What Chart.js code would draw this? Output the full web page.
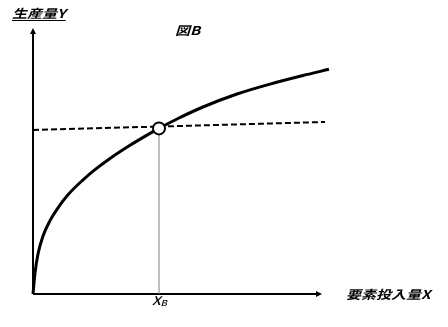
<!DOCTYPE html>
<html>
<head>
<meta charset="utf-8">
<script src="https://cdn.jsdelivr.net/npm/chart.js@4/dist/chart.umd.min.js"></script>
<style>
  html, body { margin: 0; padding: 0; background: #fff; }
  #wrap { width: 448px; height: 327px; }
</style>
</head>
<body>
<div id="wrap"><canvas id="c" width="448" height="327"></canvas></div>
<script>
// production curve Y = f(X) (axis units)
const curveX = [0, 2, 5, 10, 17, 25, 35, 49, 62, 77, 97, 114, 126, 145, 170, 204, 237, 270, 296];
const curveY = [0, 21, 40, 58, 73.4, 86.2, 99.2, 113.2, 124.3, 135.5, 148.7, 158.9, 165.6, 175.5, 187, 200, 209.9, 218.5, 224.7];

// dashed line
const dashX = [0, 292];
const dashY = [164, 172];

// point B
const xB = 126;
const yB = 165.6;

const axisMaxX = 296;
const axisMaxY = 266;
const arrowX = 289;

const titleText = '図B';
const yLabel = '生産量Y';
const xLabel = '要素投入量X';
const xTick = ['X', 'B'];

const font = '"Noto Sans CJK JP", "Noto Sans", sans-serif';

const toPts = (xs, ys) => xs.map((x, i) => ({ x: x, y: ys[i] }));

// draw text stretched a bit wider, the way the original looks
function wideText(ctx, txt, x, y, f, sx) {
    ctx.save();
    ctx.translate(x, y);
    ctx.scale(sx, 1);
    ctx.font = f;
    ctx.fillText(txt, 0, 0);
    const w = ctx.measureText(txt).width * sx;
    ctx.restore();
    return w;
}

const axesPlugin = {
    id: 'axes',
    beforeDatasetsDraw(chart) {
        const ctx = chart.ctx;
        const sx = chart.scales.x, sy = chart.scales.y;
        const x0 = sx.getPixelForValue(0), y0 = sy.getPixelForValue(0);
        const yTop = sy.getPixelForValue(axisMaxY);
        const xEnd = sx.getPixelForValue(arrowX);

        ctx.save();
        ctx.strokeStyle = '#000';
        ctx.fillStyle = '#000';
        ctx.lineWidth = 2;
        ctx.beginPath();
        ctx.moveTo(x0, y0);
        ctx.lineTo(x0, yTop + 4);
        ctx.moveTo(x0, y0);
        ctx.lineTo(xEnd - 4, y0);
        ctx.stroke();
        // arrow heads
        ctx.beginPath();
        ctx.moveTo(x0, yTop);
        ctx.lineTo(x0 - 3, yTop + 6);
        ctx.lineTo(x0 + 3, yTop + 6);
        ctx.closePath();
        ctx.fill();
        ctx.beginPath();
        ctx.moveTo(xEnd, y0);
        ctx.lineTo(xEnd - 6, y0 - 3);
        ctx.lineTo(xEnd - 6, y0 + 3);
        ctx.closePath();
        ctx.fill();

        // labels
        ctx.textBaseline = 'alphabetic';
        const bold = 'italic bold 12px ' + font;
        const w = wideText(ctx, yLabel, 12, 18, bold, 1.25);
        ctx.lineWidth = 1;
        ctx.beginPath();
        ctx.moveTo(12, 20.5);
        ctx.lineTo(12 + w, 20.5);
        ctx.stroke();
        wideText(ctx, titleText, 175, 35, bold, 1.25);
        wideText(ctx, xLabel, 346, 299, bold, 1.25);

        const xp = sx.getPixelForValue(xB);
        const wx = wideText(ctx, xTick[0], xp - 7, 305, 'italic 500 12px ' + font, 1.2);
        wideText(ctx, xTick[1], xp - 7 + wx, 306, 'italic 500 8px ' + font, 1.2);
        ctx.restore();
    }
};

new Chart(document.getElementById('c'), {
    type: 'line',
    data: {
        datasets: [
            {
                data: toPts([xB, xB], [0, yB]),
                borderColor: '#808080',
                borderWidth: 1,
                pointRadius: 0,
                order: 3
            },
            {
                data: toPts(dashX, dashY),
                borderColor: '#000',
                borderWidth: 2,
                borderDash: [6, 3],
                pointRadius: 0,
                order: 2
            },
            {
                data: toPts(curveX, curveY),
                borderColor: '#000',
                borderWidth: 3,
                pointRadius: 0,
                cubicInterpolationMode: 'monotone',
                order: 1
            },
            {
                data: [{ x: xB, y: yB }],
                showLine: false,
                pointRadius: 6,
                pointBackgroundColor: '#fff',
                pointBorderColor: '#000',
                pointBorderWidth: 2,
                order: 0
            }
        ]
    },
    options: {
        responsive: false,
        animation: false,
        layout: { padding: { left: 33, top: 28, right: 119, bottom: 33 } },
        scales: {
            x: { type: 'linear', display: false, min: 0, max: axisMaxX },
            y: { type: 'linear', display: false, min: 0, max: axisMaxY }
        },
        datasets: { line: { clip: false } },
        plugins: { legend: { display: false }, tooltip: { enabled: false } }
    },
    plugins: [axesPlugin]
});
</script>
</body>
</html>
